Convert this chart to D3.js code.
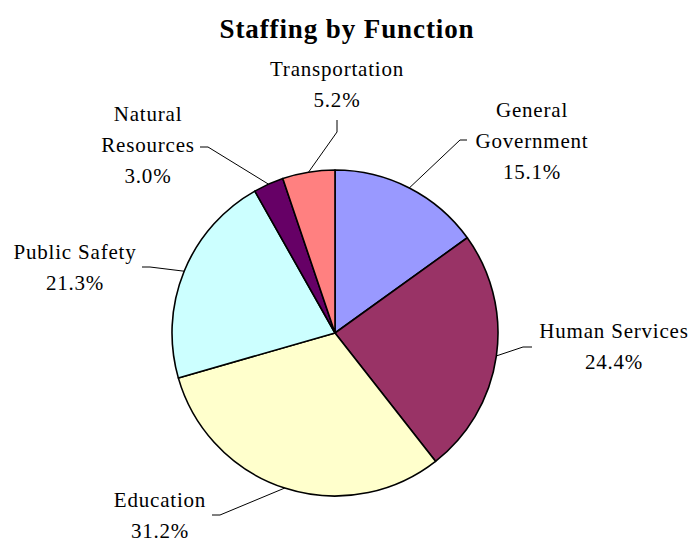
<!DOCTYPE html>
<html>
<head>
<meta charset="utf-8">
<script src="https://cdn.jsdelivr.net/npm/d3@7"></script>
<style>
  body { margin: 0; background: #fff; }
</style>
</head>
<body>
<svg id="chart"></svg>
<script>
// data, clockwise from 12 o'clock
const functions = ["General Government", "Human Services", "Education", "Public Safety", "Natural Resources", "Transportation"];
const shares = [15.1, 24.4, 31.2, 21.3, 3.0, 5.2];
const sliceColors = ["#9999ff", "#993366", "#ffffcc", "#ccffff", "#660066", "#ff8080"];
const labelLines = [["General", "Government"], ["Human Services"], ["Education"], ["Public Safety"], ["Natural", "Resources"], ["Transportation"]];

// where excel left the labels (first baseline centre) and the start of each leader
const labelLayout = {
    "General Government": { x: 532, y: 117, stub: [[467, 140], [460, 140]] },
    "Human Services":     { x: 614, y: 338, stub: [[532, 347], [523, 347]] },
    "Education":          { x: 160, y: 507, stub: [[212, 515], [220, 515]] },
    "Public Safety":      { x: 75,  y: 259, stub: [[142, 267], [150, 267]] },
    "Natural Resources":  { x: 148, y: 121, stub: [[200, 147], [208, 147]] },
    "Transportation":     { x: 337, y: 76,  stub: [[337, 120], [337, 132]] }
};

const width = 694, height = 542;
const cx = 335, cy = 333, radius = 163;
const lineGap = 31;
const serif = '"Liberation Serif"';

const svg = d3.select("#chart")
    .attr("width", width)
    .attr("height", height);

svg.append("text")
    .attr("x", 347)
    .attr("y", 38)
    .attr("text-anchor", "middle")
    .style("font-family", serif)
    .style("font-size", "27px")
    .style("font-weight", "bold")
    .style("letter-spacing", "0.9px")
    .text("Staffing by Function");

const rows = functions.map((f, i) => ({ name: f, value: shares[i], color: sliceColors[i], lines: labelLines[i] }));

const pie = d3.pie()
    .value(d => d.value)
    .sort(null);

const arcs = pie(rows);

const arc = d3.arc()
    .innerRadius(0)
    .outerRadius(radius);

// point on the rim at the middle of each slice
const rim = d3.arc()
    .innerRadius(radius)
    .outerRadius(radius);

const chart = svg.append("g")
    .attr("transform", `translate(${cx},${cy})`);

chart.selectAll("path")
    .data(arcs)
    .enter()
    .append("path")
        .attr("d", arc)
        .attr("fill", d => d.data.color)
        .attr("stroke", "#000")
        .attr("stroke-width", 1.6)
        .attr("stroke-linejoin", "round");

// leader lines
const leaders = svg.append("g");
arcs.forEach(d => {
    const lay = labelLayout[d.data.name];
    const [ex, ey] = rim.centroid(d);
    const pts = [lay.stub[0], lay.stub[1], [cx + ex, cy + ey]];
    leaders.append("path")
        .attr("d", d3.line()(pts))
        .attr("fill", "none")
        .attr("stroke", "#000")
        .attr("stroke-width", 1);
});

// labels
const labels = svg.append("g");
arcs.forEach(d => {
    const lay = labelLayout[d.data.name];
    const all = d.data.lines.concat([d.data.value.toFixed(1) + "%"]);
    all.forEach((t, k) => {
        labels.append("text")
            .attr("x", lay.x)
            .attr("y", lay.y + k * lineGap)
            .attr("text-anchor", "middle")
            .attr("fill", "#000")
            .style("font-family", serif)
            .style("font-size", "21px")
            .style("letter-spacing", "0.8px")
            .text(t);
    });
});
</script>
</body>
</html>
